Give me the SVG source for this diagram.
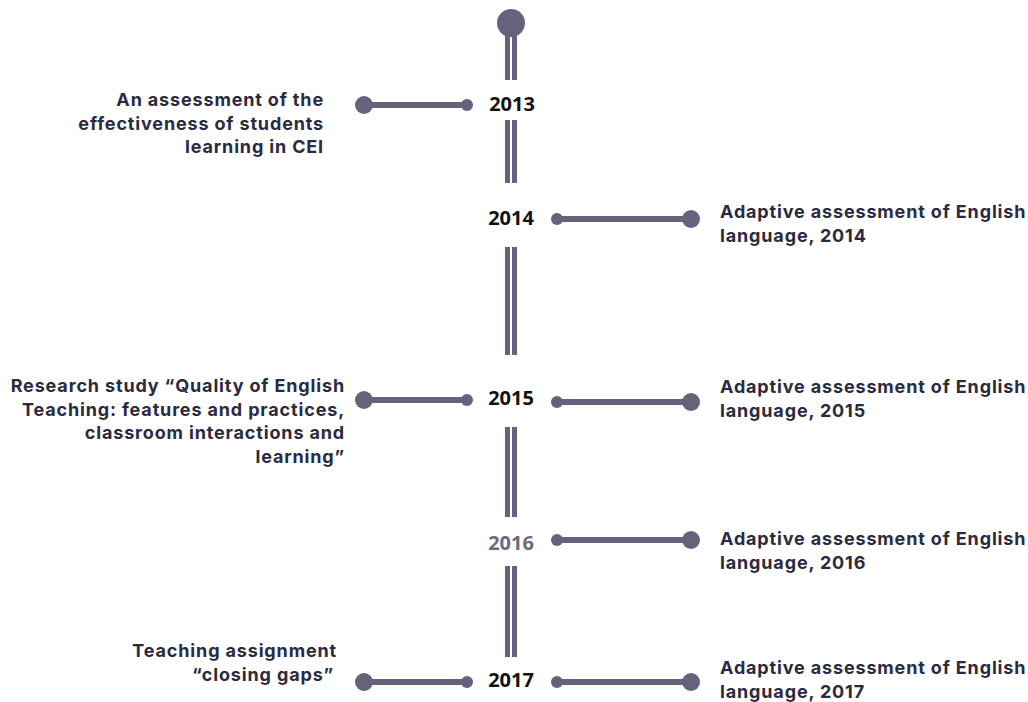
<svg xmlns="http://www.w3.org/2000/svg" width="1028" height="702" viewBox="0 0 1028 702">
  <style>
    .bar { fill: #67627c; }
    .dot { fill: #67627c; }
    .link { stroke: #67627c; stroke-width: 6; fill: none; }
    .year { font-family: "Open Sans", "Liberation Sans", sans-serif; font-weight: 700; font-size: 20px; fill: #111111; text-anchor: middle; }
    .year.muted { fill: #6d6882; }
    .label { font-family: Inter, "Liberation Sans", sans-serif; font-weight: 700; font-size: 18px; letter-spacing: 0.85px; fill: #2a2a40; }
    .left { text-anchor: end; }
  </style>

  <!-- central timeline spine -->
  <g id="spine">
    <circle class="dot" cx="511" cy="23" r="14"/>
    <rect class="bar" x="505" y="30" width="5" height="50"/>
    <rect class="bar" x="512" y="30" width="5" height="50"/>
    <rect class="bar" x="505" y="120" width="5" height="63"/>
    <rect class="bar" x="512" y="120" width="5" height="63"/>
    <rect class="bar" x="505" y="247" width="5" height="108"/>
    <rect class="bar" x="512" y="247" width="5" height="108"/>
    <rect class="bar" x="505" y="427" width="5" height="90"/>
    <rect class="bar" x="512" y="427" width="5" height="90"/>
    <rect class="bar" x="505" y="566" width="5" height="91"/>
    <rect class="bar" x="512" y="566" width="5" height="91"/>
  </g>

  <!-- connectors from year to event -->
  <g id="connectors">
    <line class="link" x1="364" y1="105" x2="467" y2="105"/>
    <circle class="dot" cx="364" cy="105" r="9"/>
    <circle class="dot" cx="467" cy="105" r="6"/>

    <line class="link" x1="557" y1="219" x2="691" y2="219"/>
    <circle class="dot" cx="557" cy="219" r="6"/>
    <circle class="dot" cx="691" cy="219" r="9"/>

    <line class="link" x1="364" y1="400" x2="467" y2="400"/>
    <circle class="dot" cx="364" cy="400" r="9"/>
    <circle class="dot" cx="467" cy="400" r="6"/>

    <line class="link" x1="557" y1="402" x2="691" y2="402"/>
    <circle class="dot" cx="557" cy="402" r="6"/>
    <circle class="dot" cx="691" cy="402" r="9"/>

    <line class="link" x1="557" y1="540" x2="691" y2="540"/>
    <circle class="dot" cx="557" cy="540" r="6"/>
    <circle class="dot" cx="691" cy="540" r="9"/>

    <line class="link" x1="364" y1="682" x2="467" y2="682"/>
    <circle class="dot" cx="364" cy="682" r="9"/>
    <circle class="dot" cx="467" cy="682" r="6"/>

    <line class="link" x1="557" y1="682" x2="691" y2="682"/>
    <circle class="dot" cx="557" cy="682" r="6"/>
    <circle class="dot" cx="691" cy="682" r="9"/>
  </g>

  <!-- year markers -->
  <g id="year-2013"><text class="year" x="512" y="111">2013</text></g>
  <g id="year-2014"><text class="year" x="511" y="225">2014</text></g>
  <g id="year-2015"><text class="year" x="511" y="405">2015</text></g>
  <g id="year-2016"><text class="year muted" x="511" y="550">2016</text></g>
  <g id="year-2017"><text class="year" x="511" y="687">2017</text></g>

  <!-- events -->
  <g id="event-2013-cei">
    <text class="label left" x="324" y="106">An assessment of the</text>
    <text class="label left" x="324" y="129.5">effectiveness of students</text>
    <text class="label left" x="324" y="153">learning in CEI</text>
  </g>
  <g id="event-2014-adaptive">
    <text class="label" x="720" y="218">Adaptive assessment of English</text>
    <text class="label" x="720" y="241.5">language, 2014</text>
  </g>
  <g id="event-2015-research">
    <text class="label left" x="345" y="392">Research study “Quality of English</text>
    <text class="label left" x="345" y="415.5">Teaching: features and practices,</text>
    <text class="label left" x="345" y="439">classroom interactions and</text>
    <text class="label left" x="345" y="462.5">learning”</text>
  </g>
  <g id="event-2015-adaptive">
    <text class="label" x="720" y="393">Adaptive assessment of English</text>
    <text class="label" x="720" y="416.5">language, 2015</text>
  </g>
  <g id="event-2016-adaptive">
    <text class="label" x="720" y="545">Adaptive assessment of English</text>
    <text class="label" x="720" y="568.5">language, 2016</text>
  </g>
  <g id="event-2017-teaching">
    <text class="label left" x="337" y="657">Teaching assignment</text>
    <text class="label left" x="334" y="680.5">“closing gaps”</text>
  </g>
  <g id="event-2017-adaptive">
    <text class="label" x="720" y="674">Adaptive assessment of English</text>
    <text class="label" x="720" y="697.5">language, 2017</text>
  </g>
</svg>
